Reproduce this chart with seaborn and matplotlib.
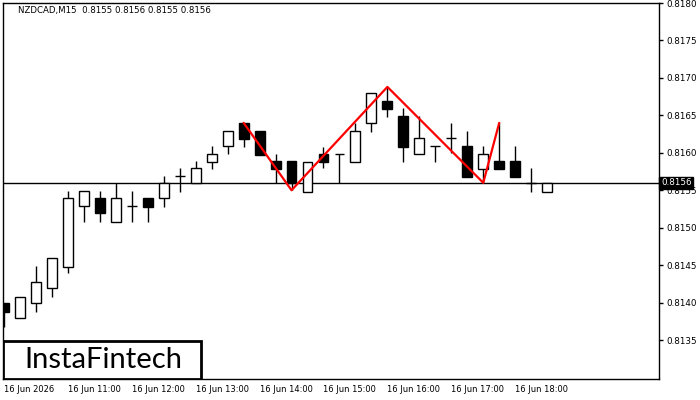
import numpy as np
import pandas as pd
import seaborn as sns
import matplotlib.pyplot as plt
from matplotlib.patches import Rectangle
from matplotlib.transforms import blended_transform_factory

sns.set_style('white')
plt.rcParams['font.family'] = ['DejaVu Sans']

# NZDCAD M15 candles
opens = [0.81399, 0.81379, 0.81399, 0.81419, 0.81448, 0.81529, 0.81540, 0.81508,
         0.81529, 0.81540, 0.81540, 0.81569, 0.81560, 0.81588, 0.81609, 0.81640,
         0.81629, 0.81589, 0.81589, 0.81548, 0.81598, 0.81598, 0.81588, 0.81640,
         0.81669, 0.81649, 0.81598, 0.81609, 0.81620, 0.81609, 0.81578, 0.81589,
         0.81589, 0.81560, 0.81548]
highs = [0.81399, 0.81407, 0.81449, 0.81460, 0.81549, 0.81549, 0.81549, 0.81560,
         0.81549, 0.81540, 0.81569, 0.81580, 0.81589, 0.81609, 0.81629, 0.81640,
         0.81629, 0.81598, 0.81589, 0.81588, 0.81608, 0.81598, 0.81640, 0.81680,
         0.81688, 0.81660, 0.81649, 0.81609, 0.81640, 0.81629, 0.81609, 0.81640,
         0.81609, 0.81580, 0.81560]
lows = [0.81367, 0.81379, 0.81387, 0.81407, 0.81440, 0.81508, 0.81508, 0.81508,
        0.81508, 0.81508, 0.81528, 0.81548, 0.81560, 0.81578, 0.81598, 0.81608,
        0.81597, 0.81560, 0.81550, 0.81548, 0.81580, 0.81560, 0.81588, 0.81628,
        0.81648, 0.81588, 0.81598, 0.81588, 0.81600, 0.81568, 0.81560, 0.81578,
        0.81568, 0.81548, 0.81548]
closes = [0.81387, 0.81407, 0.81428, 0.81460, 0.81540, 0.81549, 0.81520, 0.81540,
          0.81529, 0.81528, 0.81560, 0.81569, 0.81580, 0.81598, 0.81629, 0.81618,
          0.81597, 0.81578, 0.81560, 0.81588, 0.81588, 0.81598, 0.81629, 0.81680,
          0.81658, 0.81608, 0.81620, 0.81609, 0.81620, 0.81568, 0.81598, 0.81578,
          0.81568, 0.81560, 0.81560]

# pattern line (red)
pat_idx = [15, 18, 24, 30, 31]
pat_px = [0.81640, 0.81550, 0.81688, 0.81560, 0.81640]

last_price = 0.8156
xtick_pos = [0, 4, 8, 12, 16, 20, 24, 28, 32]
xtick_lab = ['16 Jun 2026', '16 Jun 11:00', '16 Jun 12:00', '16 Jun 13:00',
             '16 Jun 14:00', '16 Jun 15:00', '16 Jun 16:00', '16 Jun 17:00',
             '16 Jun 18:00']
ytick_pos = np.round(np.arange(0.8135, 0.81801, 0.0005), 4)

df = pd.DataFrame({'o': opens, 'h': highs, 'l': lows, 'c': closes})
df['x'] = np.arange(len(df))

fig = plt.figure(figsize=(7, 4), dpi=100)
ax = fig.add_axes([3 / 700, 21 / 400, 656 / 700, 376 / 400])

# wicks
ax.vlines(df['x'], df['l'], df['h'], color='black', lw=1, zorder=2)

# bodies
up = df['c'] >= df['o']
body = (df['c'] - df['o']).abs()
bottom = df[['o', 'c']].min(axis=1)
flat = body < 0.00002
ax.bar(df['x'][~flat], body[~flat], bottom=bottom[~flat], width=0.62,
       color=np.where(up[~flat], 'white', 'black'), edgecolor='black', lw=1, zorder=3)
ax.hlines(df['o'][flat], df['x'][flat] - 0.31, df['x'][flat] + 0.31,
          color='black', lw=1, zorder=3)

# current price line
ax.axhline(last_price, color='black', lw=1, zorder=1)

# pattern
sns.lineplot(x=pat_idx, y=pat_px, color='red', lw=1.6, sort=False, ax=ax,
             estimator=None, zorder=5)

ax.set_xlim(-0.06, 41)
ax.set_ylim(0.81298, 0.8180)

ax.yaxis.tick_right()
ax.set_yticks(ytick_pos)
ax.set_yticklabels(['%.4f' % v for v in ytick_pos], fontsize=6.3)
ax.set_xticks(xtick_pos)
ax.set_xticklabels(xtick_lab, fontsize=6, ha='left')
ax.tick_params(axis='both', direction='out', length=3, width=1, colors='black',
               pad=1.5, labelcolor='black')
ax.tick_params(axis='y', pad=2)
for s in ax.spines.values():
    s.set_color('black')
    s.set_linewidth(1)
ax.set_xlabel('')
ax.set_ylabel('')

# last price box on the axis
trans = blended_transform_factory(ax.transAxes, ax.transData)
ax.text(1.003, last_price, '0.8156', transform=trans, fontsize=6.3, color='white',
        va='center', ha='left', zorder=10,
        bbox=dict(boxstyle='square,pad=0.2', fc='black', ec='black'),
        clip_on=False)

ax.text(0.023, 0.979, 'NZDCAD,M15  0.8155 0.8156 0.8155 0.8156', transform=ax.transAxes,
        fontsize=6.2, va='center', ha='left', color='black')

# logo box
ax.add_patch(Rectangle((0, 0), 198 / 656, 38 / 376, transform=ax.transAxes,
                       fc='white', ec='black', lw=2, zorder=8))
ax.text(100 / 656, 19 / 376, 'InstaFintech', transform=ax.transAxes, fontsize=21,
        family='Lato', va='center', ha='center', color='black', zorder=9)

fig.savefig('out.png', dpi=100)
